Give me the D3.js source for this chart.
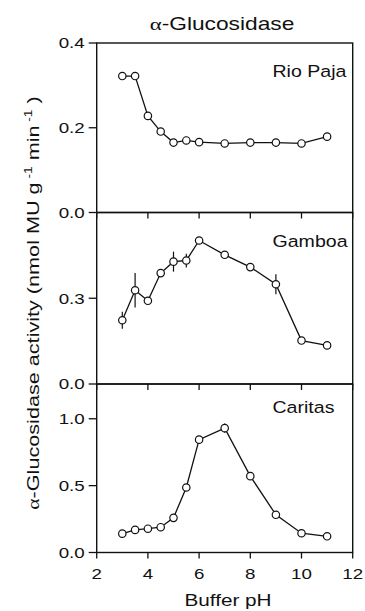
<!DOCTYPE html>
<html>
<head>
<meta charset="utf-8">
<script src="https://cdn.jsdelivr.net/npm/d3@7"></script>
<style>
  body { margin: 0; background: #fff; }
  text { font-family: "Liberation Sans", Arial, sans-serif; fill: #111; }
</style>
</head>
<body>
<script>
// data
var phValues = [3, 3.5, 4, 4.5, 5, 5.5, 6, 7, 8, 9, 10, 11];
var siteNames = ["Rio Paja", "Gamboa", "Caritas"];
var rioPaja = [0.322, 0.322, 0.228, 0.191, 0.165, 0.170, 0.166, 0.163, 0.165, 0.165, 0.163, 0.179];
var rioPajaErr = [0, 0, 0, 0, 0, 0, 0, 0, 0, 0, 0, 0];
var gamboa = [0.223, 0.328, 0.291, 0.388, 0.428, 0.432, 0.502, 0.452, 0.409, 0.349, 0.152, 0.135];
var gamboaErr = [0.03, 0.06, 0, 0.008, 0.035, 0.024, 0, 0, 0.01, 0.035, 0, 0];
var caritas = [0.141, 0.169, 0.178, 0.189, 0.259, 0.486, 0.844, 0.930, 0.571, 0.282, 0.144, 0.121];
var caritasErr = [0, 0, 0, 0, 0, 0, 0.01, 0.035, 0, 0, 0, 0];
var xTicks = [2, 4, 6, 8, 10, 12];
var yMaxes = [0.4, 0.6, 1.26];
var yTicks = [[0, 0.2, 0.4], [0, 0.3], [0, 0.5, 1.0]];

var seriesValues = [rioPaja, gamboa, caritas];
var seriesErrors = [rioPajaErr, gamboaErr, caritasErr];

var width = 365, height = 611;
var left = 96.7, right = 352.7;
// panel top/bottom in pixels
var panelTops = [43, 212.5, 384];
var panelBottoms = [212.5, 384, 552.5];
var labelBaselines = [77, 247, 413];

var svg = d3.select("body").append("svg")
    .attr("width", width)
    .attr("height", height);

var x = d3.scaleLinear().domain([2, 12]).range([left, right]);

// the original lettering is wider than the font, so stretch it sideways
function stretchedText(g, px, py, str, size, anchor, sx) {
    return g.append("text")
        .attr("transform", "translate(" + px + "," + py + ") scale(" + sx + ",1)")
        .attr("text-anchor", anchor)
        .style("font-size", size + "px")
        .text(str);
}

var fmt = d3.format(".1f");

for (let p = 0; p < 3; p++) {
    var y = d3.scaleLinear().domain([0, yMaxes[p]]).range([panelBottoms[p], panelTops[p]]);
    var g = svg.append("g");

    // left axis ticks + labels
    yTicks[p].forEach(function (t) {
        g.append("line")
            .attr("x1", left - 8).attr("x2", left)
            .attr("y1", y(t)).attr("y2", y(t))
            .attr("stroke", "#111").attr("stroke-width", 1.3);
        stretchedText(g, left - 12, y(t) + 5.4, fmt(t), 15, "end", 1.25);
    });

    // bottom ticks, pointing down
    xTicks.forEach(function (t) {
        g.append("line")
            .attr("x1", x(t)).attr("x2", x(t))
            .attr("y1", panelBottoms[p]).attr("y2", panelBottoms[p] + 6)
            .attr("stroke", "#111").attr("stroke-width", 1.3);
    });

    // frame
    g.append("rect")
        .attr("x", left).attr("y", panelTops[p])
        .attr("width", right - left).attr("height", panelBottoms[p] - panelTops[p])
        .attr("fill", "none").attr("stroke", "#111").attr("stroke-width", 1.4);

    // site name
    stretchedText(g, 272.5, labelBaselines[p], siteNames[p], 16.3, "start", 1.2);

    var pts = phValues.map(function (ph, i) {
        return {ph: ph, v: seriesValues[p][i], e: seriesErrors[p][i]};
    });

    // error bars
    g.selectAll(".err").data(pts.filter(function (d) { return d.e > 0; }))
        .enter().append("line")
        .attr("x1", function (d) { return x(d.ph); })
        .attr("x2", function (d) { return x(d.ph); })
        .attr("y1", function (d) { return y(d.v - d.e); })
        .attr("y2", function (d) { return y(d.v + d.e); })
        .attr("stroke", "#111").attr("stroke-width", 1.2);

    var line = d3.line()
        .x(function (d) { return x(d.ph); })
        .y(function (d) { return y(d.v); });

    g.append("path")
        .datum(pts)
        .attr("d", line)
        .attr("fill", "none")
        .attr("stroke", "#111")
        .attr("stroke-width", 1.3);

    g.selectAll(".pt").data(pts)
        .enter().append("circle")
        .attr("cx", function (d) { return x(d.ph); })
        .attr("cy", function (d) { return y(d.v); })
        .attr("r", 3.7)
        .attr("fill", "#fff")
        .attr("stroke", "#111")
        .attr("stroke-width", 1.2);
}

// x tick labels on the bottom panel
xTicks.forEach(function (t) {
    stretchedText(svg, x(t), 579, t, 15, "middle", 1.25);
});

// x axis title
stretchedText(svg, 228, 606, "Buffer pH", 17, "middle", 1.22);

// chart title with serif alpha
var title = svg.append("text")
    .attr("transform", "translate(222,30) scale(1.3,1)")
    .attr("text-anchor", "middle")
    .style("font-size", "17.5px");
title.append("tspan").style("font-family", "Liberation Serif, serif").text("α");
title.append("tspan").text("-Glucosidase");

// y axis title, rotated
var yl = svg.append("text")
    .attr("transform", "translate(39,303) rotate(-90) scale(1.25,1)")
    .attr("text-anchor", "middle")
    .style("font-size", "17.3px");
yl.append("tspan").style("font-family", "Liberation Serif, serif").text("α");
yl.append("tspan").text("-Glucosidase activity (nmol MU g");
yl.append("tspan").attr("dy", -7).style("font-size", "11px").text(" -1");
yl.append("tspan").attr("dy", 7).text("  min");
yl.append("tspan").attr("dy", -7).style("font-size", "11px").text(" -1");
yl.append("tspan").attr("dy", 7).text(" )");
</script>
</body>
</html>
